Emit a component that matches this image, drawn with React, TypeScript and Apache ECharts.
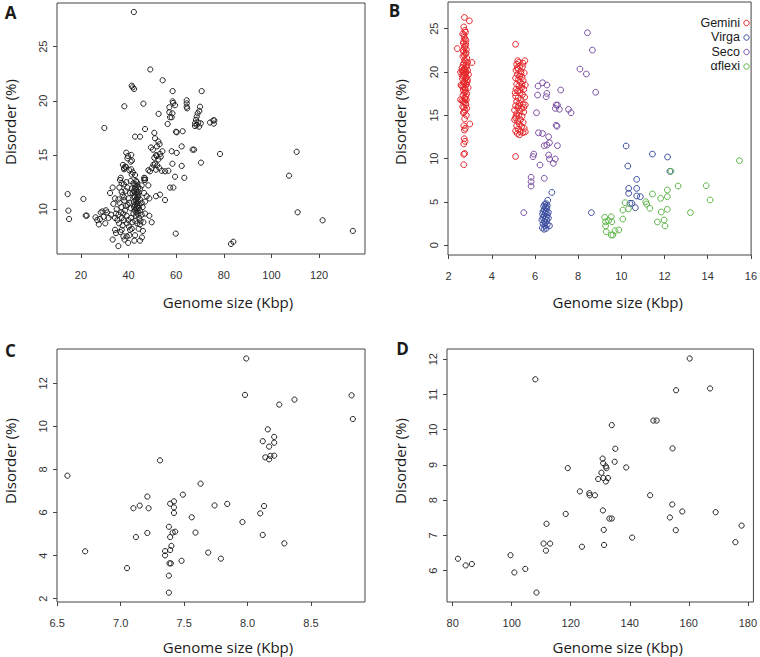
import React, { useEffect, useRef } from "react";
import * as echarts from "echarts";

// ---------- Panel A : all viruses ----------
const dataA: number[][] = [
  [42.2,28.2],[49.1,22.9],[54.3,21.9],[41.3,21.4],[41.7,21.25],[42.3,21.1],
  [58.5,20.9],[70.7,20.9],[58.5,19.95],[58.7,19.8],[59.5,19.6],[38.2,19.5],[46.2,19.74],
  [64.4,20.05],[64.4,19.77],[64.4,19.46],[64.6,19.31],
  [57.1,19.41],[57.1,18.95],[57.4,18.49],[56.4,17.87],[58.4,18.85],[58.1,18.49],[52.6,18.8],
  [70.0,19.46],[69.7,19.07],[69.0,18.85],[68.6,18.54],[68.3,18.24],[67.9,17.93],[68.6,17.78],[69.6,17.62],[70.3,17.93],[67.9,17.68],[69.2,18.0],
  [74.2,18.0],[75.6,18.2],[76.0,18.2],[75.8,17.9],
  [29.8,17.5],[46.9,17.4],[50.8,17.05],[59.9,17.15],[60.2,17.1],[62.7,17.2],
  [42.7,16.7],[44.8,16.7],[51.1,16.55],[52.5,16.25],[53.0,16.0],
  [62.3,15.8],[49.4,15.7],[58.1,15.35],[60.2,15.2],[66.9,15.5],[67.5,15.5],[78.4,15.1],[110.6,15.3],
  [62.3,14.0],[70.4,14.3],[58.4,14.2],[107.4,13.1],[63.4,12.9],[59.5,13.0],
  [57.4,12.0],[58.8,12.0],[51.5,11.2],[53.2,11.35],[55.3,10.85],[59.8,7.75],
  [111.0,9.72],[121.5,8.98],[134.2,8.0],[83.0,6.8],[84.0,7.0],
  [48.3,13.6],[49.0,13.5],[49.7,13.8],[50.4,14.1],[51.1,14.2],[51.8,14.9],[52.5,14.6],[53.2,15.1],[51.6,15.0],[50.8,14.75],
  [53.9,13.55],[55.3,13.5],[56.7,13.55],[51.5,13.65],[52.9,13.8],[54.2,15.35],[53.5,14.85],[52.0,14.05],[50.2,15.5],[51.9,15.8],
  [39.0,15.22],[39.7,14.92],[41.1,15.01],[39.5,14.7],[41.4,14.5],[40.9,14.39],[37.6,14.09],[38.6,13.93],[38.1,13.69],[41.1,13.69],[41.8,13.4],[42.7,13.16],[46.9,12.86],[46.6,12.7],
  [14.4,11.4],[21.0,10.95],[14.7,9.87],[15.0,9.1],[22.0,9.41],[22.4,9.41],
  [26.1,9.25],[26.8,9.0],[27.5,8.6],[28.3,9.7],[29.0,9.8],[29.5,9.3],[30.2,8.7],[31.0,9.7],[31.6,9.2],[30.5,9.9],[28.0,9.1],[32.6,9.5],
  [32.2,11.5],[33.3,12.0],[34.3,11.0],[35.7,10.9],
  [36.4,12.7],[36.7,12.9],[37.1,12.4],[36.1,12.0],[37.1,11.6],[37.5,11.3],[38.1,11.1],[33.6,10.5],[35.0,10.0],[34.7,9.6],[34.3,9.2],[35.3,9.0],[36.0,8.7],
  [37.1,9.2],[37.8,9.6],[38.5,9.9],[39.2,9.4],[39.9,9.0],[39.2,8.7],
  [38.9,13.9],[38.1,13.8],[40.3,13.6],[41.3,13.2],
  [34.3,8.1],[34.7,7.8],[33.3,7.2],[35.7,6.6],[37.1,8.1],[37.8,7.5],[39.2,7.5],[40.6,8.1],[40.3,7.6],[42.7,7.6],[42.4,7.1],[44.8,7.1],[46.0,8.0],[44.8,8.6],[46.2,8.8],[49.7,8.8],[48.7,9.4],
  [40.9,12.6],[42.0,12.4],[43.1,12.6],[43.7,12.2],[42.7,11.9],[43.4,11.6],[44.1,11.3],[44.8,11.9],[45.5,12.2],[41.7,11.5],[42.4,11.1],[43.1,10.9],[43.7,10.6],[44.5,10.4],
  [42.3,10.2],[43.4,10.0],[44.8,9.9],[45.9,10.2],[46.9,10.7],[47.6,11.2],[46.5,11.5],[42.0,9.6],[43.1,9.4],[44.5,9.2],[45.5,9.5],[46.9,9.6],[40.9,10.1],[40.3,10.6],[39.9,11.0],[40.6,11.5],[41.3,11.9],
  [46.9,12.7],[46.5,12.9],[48.3,12.2],[48.7,11.0],[44.8,10.9],[45.5,10.6],
  [42.8,12.0],[43.2,11.8],[43.0,11.4],[42.6,11.2],[43.5,11.0],[42.9,10.8],[43.3,10.5],[42.7,10.4],[43.6,10.3],[43.0,10.1],[42.5,9.9],[43.8,9.8],[43.2,9.7],
  [42.9,12.3],[43.5,12.5],[44.0,12.0],[44.2,11.6],[43.9,11.1],[44.0,10.7],[44.3,10.1],[44.1,9.5],[42.2,10.7],[42.1,11.7],[43.7,11.4],
  [38.0,12.3],[39.0,12.5],[39.5,12.0],[38.7,11.7],[39.6,10.4],[38.8,10.3],[37.0,10.2],[36.2,10.6],[38.2,10.8],[36.8,9.7],[35.8,9.5],[38.0,9.0],
  [41.0,9.2],[41.6,8.8],[42.8,8.9],[43.6,8.7],[45.0,8.9],[40.1,8.4],[41.3,8.2],[37.5,8.5],[36.5,7.9],[38.3,7.2],[39.8,6.9],[44.2,8.2],[45.6,7.4],
];

// ---------- Panel B : four families ----------
const gemini: number[][] = [
  [2.4,22.7],[2.73,26.3],[2.96,25.9],[2.7,25.2],[2.75,24.8],[2.65,24.4],[2.78,24.6],[2.72,24.0],[2.8,23.6],[2.68,23.3],[2.76,23.0],[2.82,22.6],[2.7,22.3],[2.78,22.1],
  [2.66,21.8],[2.84,21.6],[2.74,21.4],[3.08,21.1],[2.7,21.0],[2.8,20.8],[2.62,20.5],[2.76,20.3],[2.88,20.2],[2.68,20.0],[2.78,19.8],[2.92,19.7],[2.72,19.6],[2.82,19.4],
  [2.64,19.2],[2.75,19.0],[2.86,18.9],[2.7,18.7],[2.8,18.5],[2.6,18.4],[2.74,18.2],[2.9,18.2],[2.68,17.9],[2.78,17.7],[2.84,17.5],[2.66,17.3],[2.74,17.0],[2.82,16.8],
  [2.62,16.7],[2.72,16.5],[2.8,16.2],[2.7,15.9],[2.76,15.6],[2.68,15.3],[2.82,15.0],[2.74,14.6],[2.98,14.0],[2.7,13.8],[2.77,13.5],[2.73,13.3],[2.72,12.3],[2.76,12.0],
  [2.7,11.7],[2.74,10.6],[2.7,10.5],[2.7,9.3],
  [2.71,24.3],[2.77,23.8],[2.69,23.5],[2.79,23.2],[2.73,22.8],[2.67,22.5],[2.81,22.2],[2.73,21.9],[2.79,21.2],[2.67,20.8],[2.84,20.6],[2.73,20.4],[2.7,20.2],[2.81,20.0],
  [2.74,19.9],[2.67,19.5],[2.79,19.3],[2.71,18.8],[2.83,18.6],[2.66,18.3],[2.77,18.0],[2.72,17.6],[2.8,17.2],[2.76,16.9],[2.68,16.6],[2.78,16.4],[2.65,16.0],[2.84,15.8],
  [2.72,15.4],[2.63,20.1],[2.87,19.1],[2.62,19.6],[2.88,21.1],[2.55,20.0],[2.57,18.5],[2.55,16.8],
  [5.1,23.2],[5.1,10.25],[5.53,21.3],[5.2,21.3],[5.25,21.1],[5.15,20.9],[5.45,21.0],[5.3,20.7],[5.42,20.6],[5.12,20.2],[5.22,20.3],[5.35,20.1],[5.5,19.9],[5.18,19.7],
  [5.28,19.5],[5.4,19.4],[5.1,19.3],[5.23,19.1],[5.45,19.0],[5.32,18.8],[5.15,18.6],[5.55,18.5],[5.25,18.4],[5.38,18.2],[5.12,18.0],[5.48,18.0],[5.2,17.8],[5.3,17.6],
  [5.42,17.4],[5.1,17.2],[5.22,17.0],[5.52,17.1],[5.35,16.8],[5.15,16.6],[5.28,16.4],[5.45,16.3],[5.55,16.2],[5.1,16.1],[5.2,15.9],[5.38,15.8],[5.05,15.6],[5.3,15.5],
  [5.48,15.4],[5.15,15.2],[5.25,15.0],[5.4,14.9],[5.1,14.7],[5.33,14.5],[5.05,14.5],[5.2,14.3],[5.45,14.2],[5.28,14.0],[5.15,13.8],[5.38,13.7],[5.5,13.5],[5.22,13.4],
  [5.1,13.2],[5.32,13.1],[5.45,13.0],[5.18,12.9],[5.28,12.75],[5.55,13.1],[5.35,19.8],[5.18,20.5],[5.4,18.6],[5.25,16.1],[5.12,14.9],[5.3,17.9],[5.08,17.6],[5.48,15.9],
];
const virga: number[][] = [
  [6.59,5.2],[6.52,4.8],[6.45,4.75],[6.57,4.6],[6.4,4.5],[6.49,4.4],[6.55,4.3],[6.43,4.1],[6.37,3.9],[6.52,3.95],[6.62,3.8],[6.47,3.7],[6.35,3.6],[6.57,3.55],
  [6.42,3.4],[6.53,3.3],[6.37,3.2],[6.62,3.15],[6.47,3.05],[6.32,2.95],[6.55,2.9],[6.42,2.75],[6.49,2.6],[6.37,2.5],[6.57,2.4],[6.45,2.25],[6.67,2.25],[6.34,2.0],
  [6.52,1.95],[6.42,1.85],
  [6.78,6.1],[8.61,3.77],[10.22,11.46],[10.30,9.15],[10.71,7.61],[10.34,6.57],[10.34,6.0],[10.71,6.57],[10.71,5.69],[10.88,5.61],[10.40,4.84],[10.49,4.84],
  [10.65,4.34],[11.44,10.53],[12.14,10.19],[12.25,8.54],
];
const seco: number[][] = [
  [8.43,24.53],[8.66,22.53],[8.08,20.34],[8.38,19.77],[8.81,17.66],
  [6.35,18.76],[6.14,18.38],[6.55,18.5],[7.19,17.92],[6.12,17.34],[6.55,17.53],[6.52,17.15],
  [6.98,16.19],[7.04,16.19],[6.94,15.8],[7.13,15.7],[7.55,15.69],[7.67,15.3],[6.07,15.3],
  [6.98,13.85],[7.02,13.74],[6.16,12.99],[6.35,12.9],[6.63,12.53],[6.67,11.84],[6.55,11.57],[6.43,11.5],[7.04,11.5],
  [5.94,10.53],[5.91,10.23],[6.63,10.42],[6.67,9.96],[6.94,9.96],[6.85,9.46],[6.23,9.27],[6.43,7.73],[5.82,7.85],[5.82,7.34],[5.82,6.84],[5.48,3.77],
];
const aflexi: number[][] = [
  [9.23,3.23],[9.53,3.3],[9.27,2.72],[9.41,2.84],[9.56,2.72],[9.27,2.23],[9.30,1.57],[9.53,1.19],[9.61,1.19],[9.71,1.69],[9.88,1.77],[10.07,3.03],
  [10.07,4.07],[10.17,4.92],[10.33,4.2],[11.13,5.03],[11.17,4.77],[11.32,4.27],[11.44,5.92],[11.82,5.42],[12.13,6.38],[12.13,5.61],[11.85,3.84],
  [11.67,2.69],[11.98,2.92],[12.02,2.23],[12.13,4.15],[12.3,8.54],[12.63,6.84],[13.2,3.77],[13.93,6.88],[14.11,5.23],[15.47,9.77],
];

// ---------- Panel C ----------
const dataC: number[][] = [
  [6.58,7.71],[6.72,4.2],[7.05,3.42],[7.1,6.2],[7.12,4.86],[7.15,6.32],[7.21,6.74],[7.22,6.2],[7.21,5.05],[7.31,8.42],
  [7.35,4.21],[7.35,4.01],[7.38,5.34],[7.39,4.86],[7.39,6.41],[7.39,4.26],[7.385,3.64],[7.395,3.64],[7.38,3.07],[7.38,2.28],
  [7.4,4.45],[7.42,6.52],[7.42,6.24],[7.42,5.98],[7.41,5.07],[7.43,5.11],[7.48,3.76],[7.49,6.83],[7.56,5.78],[7.59,5.07],
  [7.63,7.34],[7.69,4.14],[7.74,6.33],[7.84,6.4],[7.79,3.86],[7.96,5.56],[7.99,13.15],[7.98,11.46],[8.1,5.96],[8.12,9.31],
  [8.12,4.96],[8.13,6.3],[8.14,8.56],[8.16,9.86],[8.17,9.06],[8.17,8.47],[8.18,8.63],[8.21,8.64],[8.21,9.51],[8.21,9.24],
  [8.25,11.01],[8.29,4.57],[8.37,11.24],[8.82,11.44],[8.83,10.34],
];

// ---------- Panel D ----------
const dataD: number[][] = [
  [81.8,6.34],[84.4,6.15],[86.5,6.19],[99.6,6.44],[100.9,5.95],[104.6,6.05],[108.4,5.38],[108.0,11.43],[110.8,6.77],[111.6,6.57],
  [111.8,7.33],[113.0,6.77],[118.3,7.61],[119.0,8.91],[123.1,8.25],[123.8,6.68],[126.3,8.2],[126.4,8.14],[128.2,8.14],[129.3,8.6],
  [130.4,8.78],[130.8,9.18],[130.9,7.71],[131.0,9.05],[131.1,8.63],[131.2,7.16],[131.3,6.73],[131.9,8.96],[132.1,8.91],[131.9,8.53],
  [132.6,8.63],[133.1,7.48],[133.9,7.48],[133.9,10.13],[135.1,9.46],[134.9,9.09],[138.8,8.93],[140.8,6.94],[146.9,8.14],[148.0,10.26],
  [149.1,10.26],[153.6,7.51],[154.4,7.88],[154.5,9.47],[155.6,7.15],[155.7,11.12],[157.8,7.68],[160.3,12.02],[167.2,11.17],[169.1,7.66],
  [175.8,6.81],[177.9,7.28],
];

// ---------- axis ticks ----------
const ticksAX = [20, 40, 60, 80, 100, 120];
const ticksAY = [10, 15, 20, 25];
const ticksBX = [2, 4, 6, 8, 10, 12, 14, 16];
const ticksBY = [0, 5, 10, 15, 20, 25];
const ticksCX = [6.5, 7.0, 7.5, 8.0, 8.5];
const ticksCY = [2, 4, 6, 8, 10, 12];
const ticksDX = [80, 100, 120, 140, 160, 180];
const ticksDY = [6, 7, 8, 9, 10, 11, 12];

const familyNames = ["Gemini", "Virga", "Seco", "\u03b1flexi"];
const familyColors = ["#e5262a", "#3b4da0", "#7a4ea3", "#5cb547"];

const TICK_FONT = "'Liberation Sans Narrow', 'Liberation Sans', Arial, sans-serif";
const TITLE_FONT = "'Open Sans', 'Noto Sans', sans-serif";
const LEGEND_FONT = "'Liberation Sans', Arial, sans-serif";
const BOX = "#444";

function xAx(gridIndex: number, min: number, max: number, ticks: number[], dec = 0) {
  return {
    type: "value", gridIndex, min, max,
    axisLine: { show: false, onZero: false },
    splitLine: { show: false },
    axisTick: { show: true, inside: false, length: 4, lineStyle: { color: BOX }, customValues: ticks },
    axisLabel: {
      customValues: ticks, margin: 15, fontSize: 11, color: "#333", fontFamily: TICK_FONT,
      formatter: (v: number) => v.toFixed(dec),
    },
  };
}
function yAx(gridIndex: number, min: number, max: number, ticks: number[]) {
  return {
    type: "value", gridIndex, min, max,
    axisLine: { show: false, onZero: false },
    splitLine: { show: false },
    axisTick: { show: true, inside: false, length: 4, lineStyle: { color: BOX }, customValues: ticks },
    axisLabel: {
      customValues: ticks, margin: 9, rotate: 90, fontSize: 11, color: "#333", fontFamily: TICK_FONT,
      formatter: (v: number) => String(v),
    },
  };
}
function sc(idx: number, data: number[][], color: string, size: number) {
  return {
    type: "scatter", xAxisIndex: idx, yAxisIndex: idx, data, symbol: "circle", symbolSize: size, silent: true,
    itemStyle: { color: "rgba(0,0,0,0)", borderColor: color, borderWidth: 1, opacity: 1 },
  };
}
function txt(x: number, y: number, text: string, font: string, rot = 0, align = "center") {
  return {
    type: "text", x, y, rotation: rot, silent: true,
    style: { text, font, fill: "#1a1a1a", align, verticalAlign: "middle" },
  };
}

export default function App() {
  const ref = useRef<HTMLDivElement>(null);
  useEffect(() => {
    if (!ref.current) return;
    const chart = echarts.init(ref.current, null, { renderer: "svg" });
    const grid = (left: number, top: number, width: number, height: number) => ({
      left, top, width, height, show: true, borderColor: BOX, borderWidth: 1, backgroundColor: "transparent", containLabel: false,
    });
    const titleFont = `15px ${TITLE_FONT}`;
    const letterFont = `bold 17px ${TITLE_FONT}`;
    const legendFont = `12.5px ${LEGEND_FONT}`;
    const legendY = [22.5, 37, 51.5, 66];
    const graphic: any[] = [
      txt(10.5, 12, "A", letterFont), txt(394.5, 10.5, "B", letterFont),
      txt(10.5, 350.5, "C", letterFont), txt(402.5, 348.7, "D", letterFont),
      txt(228, 302, "Genome size (Kbp)", titleFont), txt(617.7, 302, "Genome size (Kbp)", titleFont),
      txt(228, 647, "Genome size (Kbp)", titleFont), txt(617.7, 647, "Genome size (Kbp)", titleFont),
      txt(9.5, 122, "Disorder (%)", titleFont, Math.PI / 2), txt(399.7, 122, "Disorder (%)", titleFont, Math.PI / 2),
      txt(9.5, 461, "Disorder (%)", titleFont, Math.PI / 2), txt(399.7, 461, "Disorder (%)", titleFont, Math.PI / 2),
    ];
    familyNames.forEach((n, i) => {
      graphic.push(txt(740, legendY[i], n, legendFont, 0, "right"));
      graphic.push({
        type: "circle", silent: true, shape: { cx: 746.5, cy: legendY[i] + 0.5, r: 2.7 },
        style: { fill: "none", stroke: familyColors[i], lineWidth: 1 },
      });
    });
    chart.setOption({
      animation: false,
      backgroundColor: "#fff",
      grid: [grid(57, 3, 308, 251), grid(448, 2, 307, 253), grid(57, 349, 308, 253), grid(447, 349, 308, 253)],
      xAxis: [
        xAx(0, 9.92, 139.3, ticksAX),
        xAx(1, 1.97, 16.01, ticksBX),
        xAx(2, 6.498, 8.926, ticksCX, 1),
        xAx(3, 78.08, 181.9, ticksDX),
      ],
      yAxis: [
        yAx(0, 5.87, 29.03, ticksAY),
        yAx(1, -1.12, 28.08, ticksBY),
        yAx(2, 1.847, 13.59, ticksCY),
        yAx(3, 5.112, 12.29, ticksDY),
      ],
      series: [
        sc(0, dataA, "#222", 5.2),
        sc(1, gemini, familyColors[0], 5.8),
        sc(1, virga, familyColors[1], 5.8),
        sc(1, seco, familyColors[2], 5.8),
        sc(1, aflexi, familyColors[3], 5.8),
        sc(2, dataC, "#222", 5.2),
        sc(3, dataD, "#222", 5.2),
      ],
      graphic,
    });
    return () => chart.dispose();
  }, []);
  return <div ref={ref} style={{ position: "absolute", left: 0, top: 0, width: 760, height: 657 }} />;
}
